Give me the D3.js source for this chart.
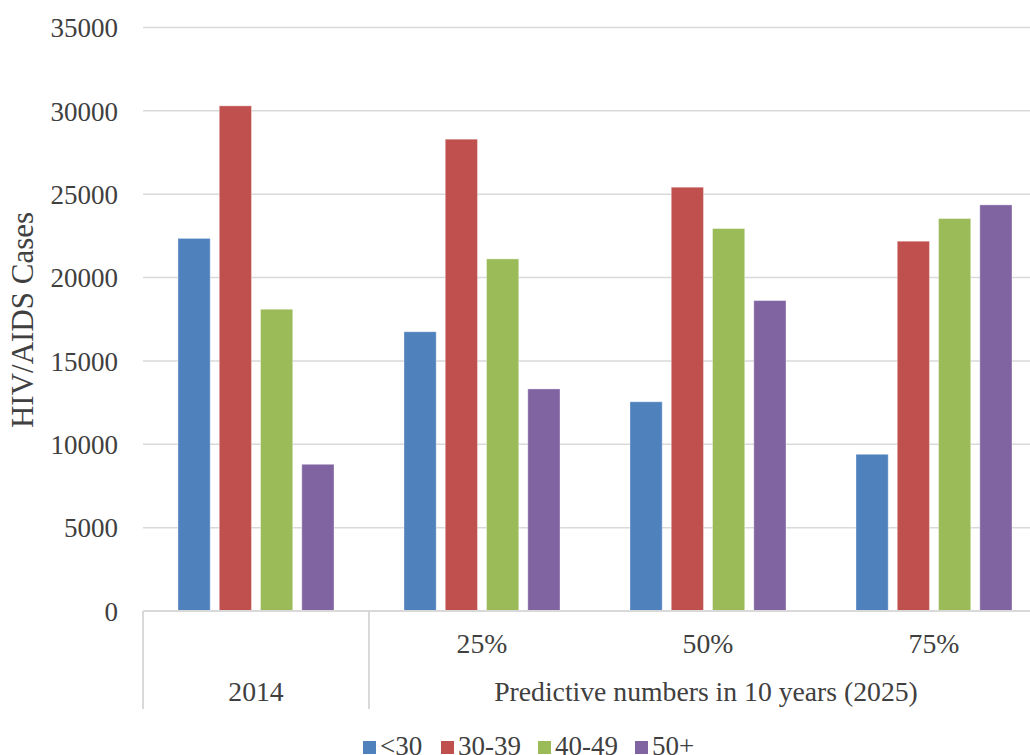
<!DOCTYPE html>
<html>
<head>
<meta charset="utf-8">
<script src="https://cdn.jsdelivr.net/npm/d3@7"></script>
<style>
  html, body { margin: 0; padding: 0; background: #fff; }
  svg { display: block; }
  text { font-family: "Liberation Serif", "Times New Roman", serif; fill: #404040; }
</style>
</head>
<body>
<svg id="chart" width="1030" height="755"></svg>
<script>
const groups = ["2014", "25%", "50%", "75%"];
const groupLabels = ["", "25%", "50%", "75%"];
const seriesNames = ["<30", "30-39", "40-49", "50+"];
const seriesColors = ["#4F81BD", "#C0504D", "#9BBB59", "#8064A2"];
const valuesLt30 = [22350, 16750, 12550, 9400];
const values30_39 = [30300, 28300, 25420, 22180];
const values40_49 = [18100, 21120, 22940, 23540];
const values50plus = [8800, 13320, 18620, 24360];
const yTicks = [0, 5000, 10000, 15000, 20000, 25000, 30000, 35000];
const outerLabels = ["2014", "Predictive numbers in 10 years (2025)"];
const yTitle = "HIV/AIDS Cases";

const seriesValues = [valuesLt30, values30_39, values40_49, values50plus];

const svg = d3.select("#chart");
const pLeft = 143, pRight = 1047, pTop = 27.5, pBottom = 611;

const y = d3.scaleLinear().domain([0, 35000]).range([pBottom, pTop]);
const x0 = d3.scaleBand().domain(groups).range([pLeft, pRight]).paddingInner(0).paddingOuter(0);
const x1 = d3.scaleBand().domain(seriesNames).range([35, x0.bandwidth() - 35]).paddingInner(0.22).paddingOuter(0);

// gridlines
svg.append("g").selectAll("line").data(yTicks.filter(d => d > 0)).join("line")
  .attr("x1", pLeft).attr("x2", pRight)
  .attr("y1", d => y(d)).attr("y2", d => y(d))
  .attr("stroke", "#d9d9d9").attr("stroke-width", 1.5);

// y axis labels
const yAxis = d3.axisLeft(y).tickValues(yTicks).tickSize(0).tickPadding(0).tickFormat(d3.format("d"));
const gy = svg.append("g").attr("transform", `translate(118,0)`).call(yAxis);
gy.select(".domain").remove();
gy.selectAll("text").style("font-size", "27px").style("font-family", "Liberation Serif").attr("fill", "#404040").attr("dy", "0.34em");

// bars
const gBars = svg.append("g");
groups.forEach((g, gi) => {
  gBars.append("g").attr("transform", `translate(${x0(g)},0)`)
    .selectAll("rect").data(seriesNames.map((s, si) => ({ s, si, v: seriesValues[si][gi] })))
    .join("rect")
    .attr("x", d => x1(d.s))
    .attr("width", x1.bandwidth())
    .attr("y", d => y(d.v))
    .attr("height", d => y(0) - y(d.v))
    .attr("fill", d => seriesColors[d.si])
    .attr("stroke", "#ffffff").attr("stroke-opacity", 0.35).attr("stroke-width", 1);
});

// x axis baseline
svg.append("line").attr("x1", pLeft).attr("x2", pRight).attr("y1", pBottom).attr("y2", pBottom)
  .attr("stroke", "#d9d9d9").attr("stroke-width", 2);

// dividers for outer categories
const divX = [x0("2014"), x0("25%"), pRight];
svg.append("g").selectAll("line").data(divX).join("line")
  .attr("x1", d => d).attr("x2", d => d).attr("y1", pBottom).attr("y2", 709)
  .attr("stroke", "#d9d9d9").attr("stroke-width", 2);

// inner category labels
svg.append("g").selectAll("text").data(groups).join("text")
  .attr("x", d => x0(d) + x0.bandwidth() / 2)
  .attr("y", 653)
  .attr("text-anchor", "middle")
  .style("font-size", "27.7px")
  .text((d, i) => groupLabels[i]);

// outer category labels
const outerCenters = [x0("2014") + x0.bandwidth() / 2, (x0("25%") + pRight) / 2 - 2];
svg.append("g").selectAll("text").data(outerLabels).join("text")
  .attr("x", (d, i) => outerCenters[i])
  .attr("y", 701)
  .attr("text-anchor", "middle")
  .style("font-size", "27.7px")
  .text(d => d);

// y title
svg.append("text")
  .attr("transform", `translate(33,320) rotate(-90)`)
  .attr("text-anchor", "middle")
  .style("font-size", "31px")
  .text(yTitle);

// legend
const legendX = [363, 441, 538, 635];
const lg = svg.append("g").selectAll("g").data(seriesNames).join("g")
  .attr("transform", (d, i) => `translate(${legendX[i]},0)`);
lg.append("rect").attr("x", 0).attr("y", 741).attr("width", 13).attr("height", 13)
  .attr("fill", (d, i) => seriesColors[i]);
lg.append("text").attr("x", 17).attr("y", 755).style("font-size", "27px").text(d => d);
</script>
</body>
</html>
